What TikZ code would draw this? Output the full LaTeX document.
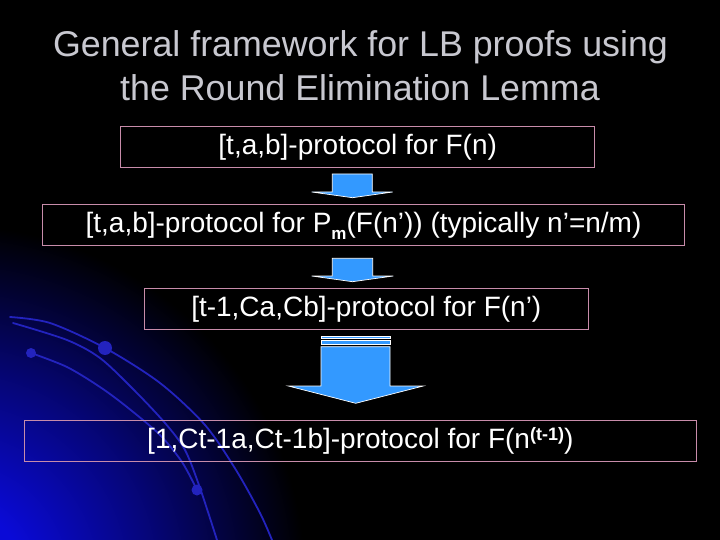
\documentclass[tikz,border=0pt]{standalone}
\usepackage{fontspec}
\setmainfont{Liberation Sans}
\definecolor{boxpink}{RGB}{200,140,170}
\definecolor{arrowblue}{RGB}{51,153,255}
\definecolor{titlegray}{RGB}{200,200,208}
\definecolor{bgblue}{RGB}{10,10,215}
\definecolor{arcblue}{RGB}{35,35,190}
\pgfdeclareradialshading{cornerglow}{\pgfpoint{0bp}{0bp}}{%
  color(0bp)=(bgblue); color(2.5bp)=(bgblue); color(7bp)=(bgblue!55!black);
  color(12bp)=(black); color(50bp)=(black)}
\begin{document}
\begin{tikzpicture}[x=1pt,y=-1pt,
  box/.style={draw=boxpink, line width=0.9pt, inner sep=0pt, text=white,
    font=\fontsize{28}{28}\selectfont},
  titletext/.style={anchor=base, text=titlegray, inner sep=0pt,
    font=\fontsize{35.8}{40}\selectfont},
  blockarrow/.style={fill=arrowblue, draw=white, line width=0.7pt, line join=miter},
  arcline/.style={draw=arcblue, line width=1.8pt, line cap=round},
  arcdot/.style={fill=arcblue}]
\useasboundingbox (0,0) rectangle (720,540);
\fill[black] (0,0) rectangle (720,540);
\begin{scope}
  \clip (0,0) rectangle (720,540);
  \shade[shading=cornerglow] (-50,580) circle (740pt);
  % decorative arcs
  \draw[arcline] plot[smooth] coordinates {(10,317) (50,323) (105,348) (160,383) (205,425) (236,470) (260,513) (272,540)};
  \draw[arcline] plot[smooth] coordinates {(13,323) (67,340) (100,358) (133,389) (165,423) (185,450) (200,488) (217,540)};
  \draw[arcline] plot[smooth] coordinates {(31,353) (67,367) (100,387) (127,407) (160,435) (182,462) (197,490)};
  \fill[arcdot] (105,348) circle (7pt);
  \fill[arcdot] (31,353) circle (5pt);
  \fill[arcdot] (197,490) circle (5.5pt);
\end{scope}

% title
\node[titletext] (t1) at (360.5,56.7) {General framework for LB proofs using};
\node[titletext] (t2) at (360,101) {the Round Elimination Lemma};

% boxes
\node[box, minimum width=474pt, minimum height=40.5pt] (b1) at (357.7,147.2)
  {[t,a,b]-protocol for F(n)};
\node[box, minimum width=642.4pt, minimum height=41.4pt] (b2) at (363.5,225)
  {[t,a,b]-protocol for P\smash{\raisebox{-7pt}{\fontsize{17}{17}\selectfont\bfseries m}}(F(n’)) (typically n’=n/m)};
\node[box, minimum width=444.7pt, minimum height=41pt] (b3) at (366.3,308.8)
  {[t-1,Ca,Cb]-protocol for F(n’)};
\node[box, minimum width=672.7pt, minimum height=41.4pt] (b4) at (360.3,441)
  {[1,Ct-1a,Ct-1b]-protocol for F(n\smash{\raisebox{8pt}{\fontsize{18}{18}\selectfont\bfseries (t-1)}})};

% small block arrows
\draw[blockarrow] (332.3,174) -- (372.3,174) -- (372.3,192) -- (392.7,192)
  -- (352.5,197.7) -- (311.7,192) -- (332.3,192) -- cycle;
\draw[blockarrow] (332.3,258.3) -- (372.7,258.3) -- (372.7,276) -- (393.3,276)
  -- (352.5,281.7) -- (311.7,276) -- (332.3,276) -- cycle;

% big striped block arrow
\draw[blockarrow] (321,336) rectangle (390,338.7);
\draw[blockarrow] (321,340.3) rectangle (390,344.7);
\draw[blockarrow] (321,346.7) -- (390,346.7) -- (390,386) -- (423.3,386)
  -- (355.7,403.3) -- (288.3,386) -- (321,386) -- cycle;
\end{tikzpicture}
\end{document}
